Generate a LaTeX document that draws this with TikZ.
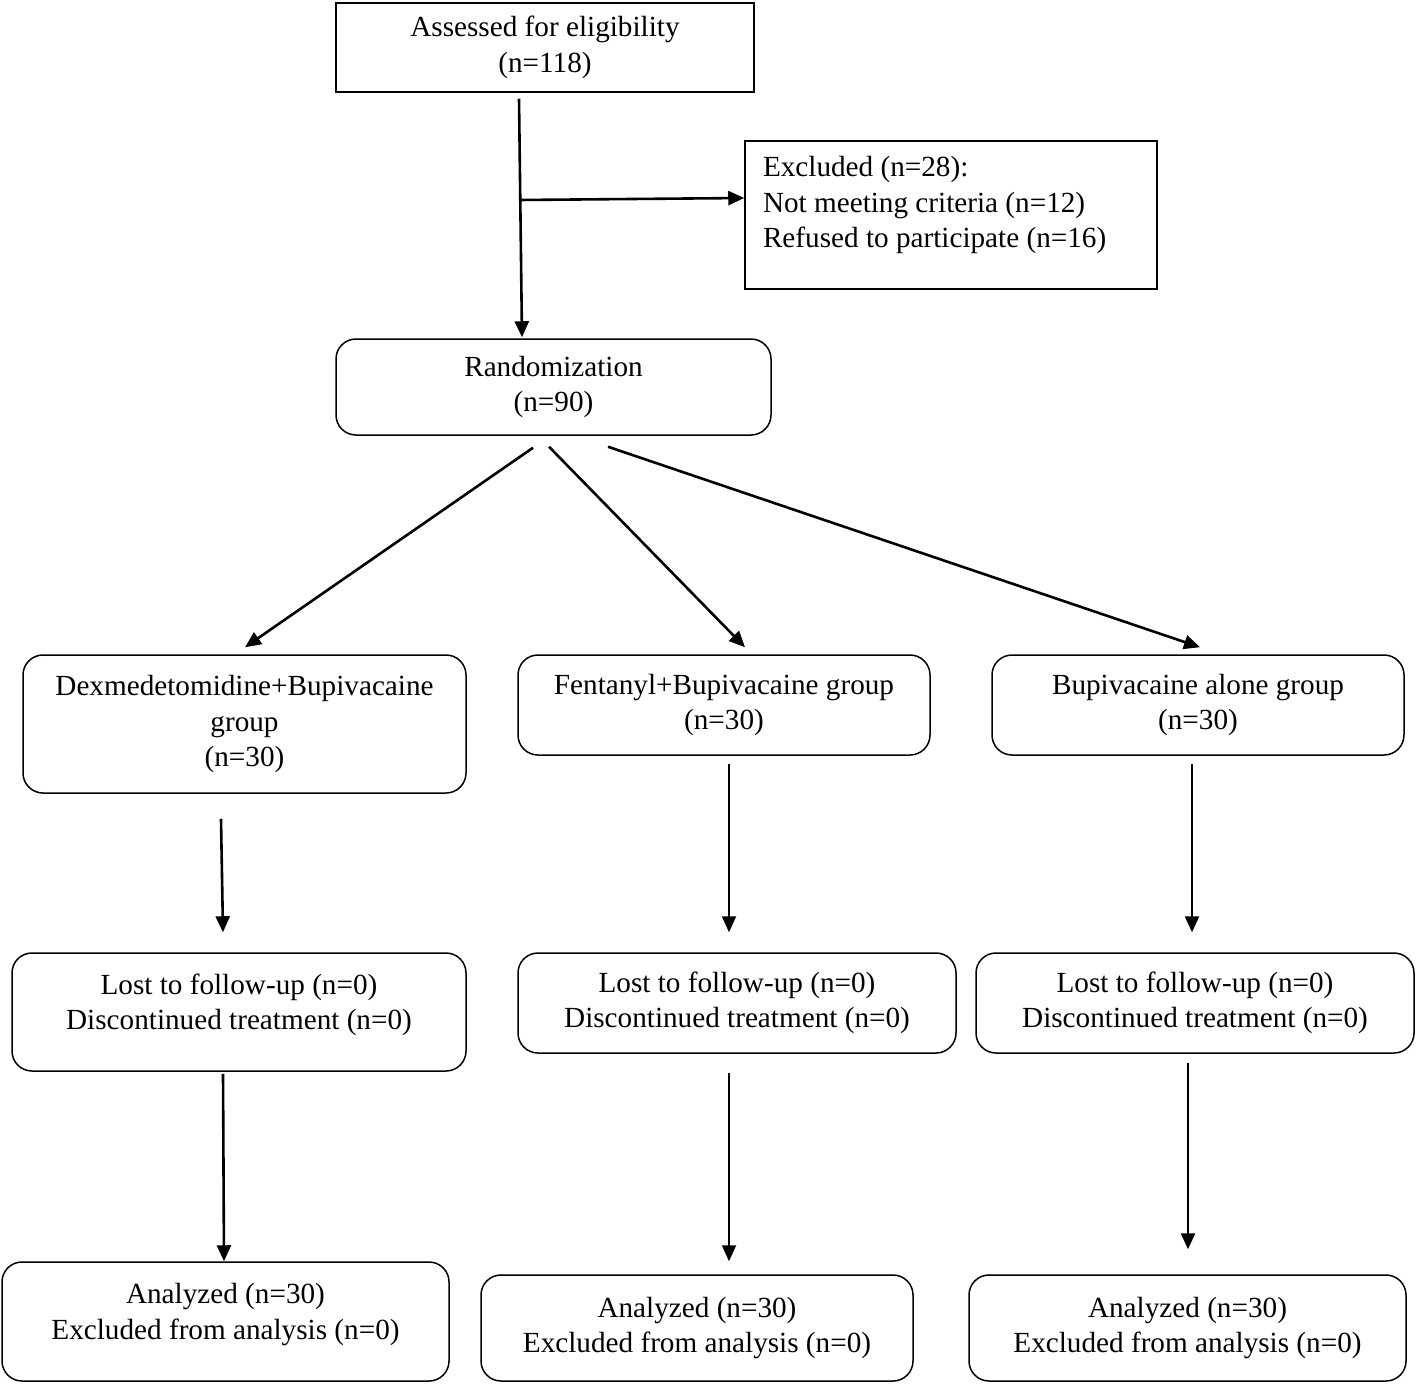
\documentclass[tikz,border=0pt]{standalone}
\usepackage{fontspec}
\setmainfont{Liberation Serif}
\usetikzlibrary{arrows.meta}
\newcommand{\rtext}[3]{\raisebox{0pt}[\height][\dimexpr\depth+#1\relax]{\begin{tabular}{@{}#2@{}}#3\end{tabular}}}
\begin{document}
\begin{tikzpicture}[x=0.5pt,y=-0.5pt,
  txt/.style={font=\fontsize{14.6pt}{17.75pt}\selectfont},
  sbox/.style={txt,draw=black,line width=0.75pt,align=center,inner sep=0pt},
  rbox/.style={sbox,rounded corners=10pt},
  arr/.style={line width=1.3pt,-{Triangle[length=8pt,width=7pt]}}]
\useasboundingbox (0,0) rectangle (1418,1386);
\node[sbox,minimum width=209pt,minimum height=44.5pt] (assess) at (545,47.5) {Assessed for eligibility\\(n=118)};
\node[sbox,minimum width=206pt,minimum height=74pt] (excl) at (951,215)
  {\makebox[188pt][l]{\rtext{10pt}{l}{Excluded (n=28):\\Not meeting criteria (n=12)\\Refused to participate (n=16)}}};
\node[rbox,minimum width=217.5pt,minimum height=48pt] (rand) at (553.5,387) {Randomization\\(n=90)};
\node[rbox,minimum width=221.5pt,minimum height=69pt] (dex) at (244.5,724) {Dexmedetomidine+Bupivacaine\\group\\(n=30)};
\node[rbox,minimum width=206pt,minimum height=50pt] (fen) at (724,705) {Fentanyl+Bupivacaine group\\(n=30)};
\node[rbox,minimum width=206pt,minimum height=50pt] (bup) at (1198,705) {Bupivacaine alone group\\(n=30)};
\node[rbox,minimum width=227pt,minimum height=59pt] (lost1) at (239,1012) {\rtext{7pt}{c}{Lost to follow-up (n=0)\\Discontinued treatment (n=0)}};
\node[rbox,minimum width=219pt,minimum height=50pt] (lost2) at (737,1003) {Lost to follow-up (n=0)\\Discontinued treatment (n=0)};
\node[rbox,minimum width=219pt,minimum height=50pt] (lost3) at (1195,1003) {Lost to follow-up (n=0)\\Discontinued treatment (n=0)};
\node[rbox,minimum width=223.5pt,minimum height=59.5pt] (an1) at (225.5,1321.5) {\rtext{7pt}{c}{Analyzed (n=30)\\Excluded from analysis (n=0)}};
\node[rbox,minimum width=216pt,minimum height=53pt] (an2) at (697,1328) {Analyzed (n=30)\\Excluded from analysis (n=0)};
\node[rbox,minimum width=218.5pt,minimum height=53pt] (an3) at (1187.5,1328) {Analyzed (n=30)\\Excluded from analysis (n=0)};
\coordinate (br) at (519,200);
\draw[arr] ([xshift=-13pt,yshift=-3pt]assess.south) -- ([xshift=-15.75pt,yshift=0.5pt]rand.north);
\draw[arr] (br) -- ([yshift=8.5pt]excl.west);
\draw[arr] ([xshift=-10.25pt,yshift=-6pt]rand.south) -- ([xshift=0.25pt,yshift=3.5pt]dex.north);
\draw[arr] ([xshift=-2.25pt,yshift=-5.5pt]rand.south) -- ([xshift=10.5pt,yshift=3.5pt]fen.north);
\draw[arr] ([xshift=27.25pt,yshift=-5.5pt]rand.south) -- ([xshift=1pt,yshift=3.5pt]bup.north);
\draw[arr] ([xshift=-11.75pt,yshift=-12.5pt]dex.south) -- ([xshift=-8pt,yshift=10pt]lost1.north);
\draw[arr] ([xshift=-8pt,yshift=-1pt]lost1.south) -- ([xshift=-0.75pt]an1.north);
\draw[arr,line width=1pt] ([xshift=2.5pt,yshift=-4pt]fen.south) -- ([xshift=-4pt,yshift=10pt]lost2.north);
\draw[arr,line width=1pt] ([xshift=-4pt,yshift=-9.5pt]lost2.south) -- ([xshift=16pt,yshift=6.5pt]an2.north);
\draw[arr] ([xshift=-3pt,yshift=-4pt]bup.south) -- ([xshift=-1.5pt,yshift=10pt]lost3.north);
\draw[arr] ([xshift=-3.5pt,yshift=-4.5pt]lost3.south) -- ([xshift=0.25pt,yshift=12.5pt]an3.north);
\end{tikzpicture}
\end{document}
